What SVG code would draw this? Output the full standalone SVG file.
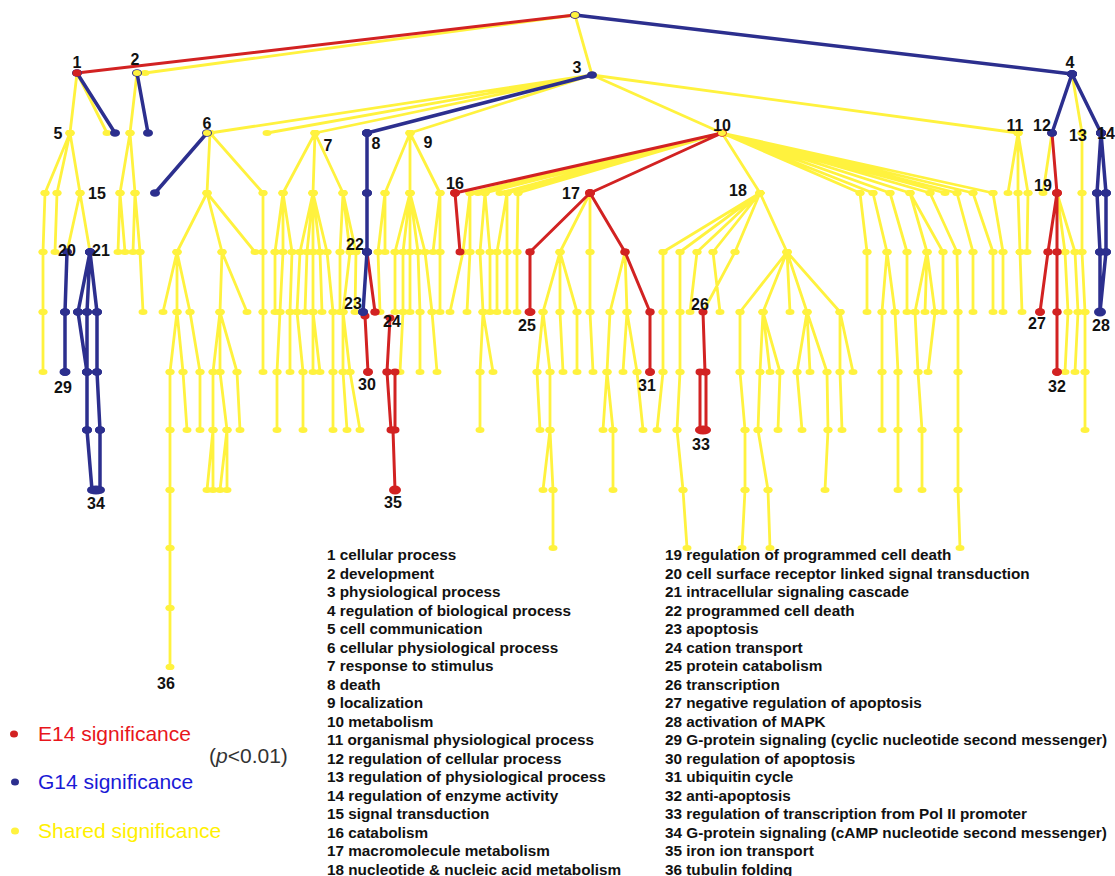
<svg xmlns="http://www.w3.org/2000/svg" width="1115" height="876" viewBox="0 0 1115 876">
<style>
.y{stroke:#fff23e;stroke-width:2.8;fill:none;stroke-linecap:round;marker-start:url(#dy);marker-mid:url(#dy);marker-end:url(#dy)}
.r{stroke:#d22222;stroke-width:3;fill:none;stroke-linecap:round;marker-start:url(#dr);marker-mid:url(#dr);marker-end:url(#dr)}
.b{stroke:#2c2f8e;stroke-width:3.5;fill:none;stroke-linecap:round;marker-start:url(#db);marker-mid:url(#db);marker-end:url(#db)}
.yd{fill:#fff23e}.rd{fill:#d22222}.bd{fill:#2c2f8e}
.lbl{font-family:"Liberation Sans",Arial,sans-serif;font-weight:bold;font-size:16px;text-anchor:middle;fill:#111}
.lst{font-family:"Liberation Sans",Arial,sans-serif;font-weight:bold;font-size:15.3px;fill:#111}
.leg{font-family:"Liberation Sans",Arial,sans-serif;font-size:21px}
</style>
<defs>
<marker id="dy" markerUnits="userSpaceOnUse" markerWidth="10" markerHeight="8" refX="5" refY="4" viewBox="0 0 10 8" overflow="visible"><ellipse cx="5" cy="4" rx="4.5" ry="3" fill="#fff23e"/></marker>
<marker id="dr" markerUnits="userSpaceOnUse" markerWidth="10" markerHeight="8" refX="5" refY="4" viewBox="0 0 10 8" overflow="visible"><ellipse cx="5" cy="4" rx="4.5" ry="3.4" fill="#d22222"/></marker>
<marker id="db" markerUnits="userSpaceOnUse" markerWidth="10" markerHeight="8" refX="5" refY="4" viewBox="0 0 10 8" overflow="visible"><ellipse cx="5" cy="4" rx="5" ry="3.8" fill="#2c2f8e"/></marker>
</defs>
<rect width="1115" height="876" fill="#fff"/>
<g id="connectors">
<path class="y" d="M575 15L145 73M575 15L592 75M77 73L70 133M77 73L107 133M137 73L130 133M592 75L210 133M592 75L267 133M592 75L315 133M592 75L410 133M592 75L722 133M592 75L1018 133M1072 74L1082 133
M70 133L45 193M70 133L57 193M70 133L80 193M130 133L120 193M130 133L135 193M210 133L207 193M210 133L263 193M315 133L283 193M315 133L313 193M315 133L343 193M410 133L385 193M410 133L410 193M410 133L440 193M722 133L470 193M722 133L478 193M722 133L485 193M722 133L500 193M722 133L507 193M722 133L518 193M722 133L760 193M722 133L860 193M722 133L873 193M722 133L890 193M722 133L910 193M722 133L930 193M722 133L945 193M722 133L957 193M722 133L973 193M722 133L993 193M1018 133L1008 193M1018 133L1018 193M1018 133L1028 193M1052 133L1043 193M1082 133L1082 193
M45 193L43 252M57 193L55 252M80 193L67 252M80 193L90 252M120 193L118 252M120 193L125 252M135 193L133 252M135 193L140 252M207 193L177 252M207 193L222 252M207 193L255 252M263 193L263 252M283 193L275 252M283 193L283 252M283 193L292 252M313 193L300 252M313 193L307 252M313 193L313 252M313 193L320 252M313 193L327 252M343 193L340 252M343 193L350 252M343 193L356 252M385 193L378 252M385 193L385 252M410 193L395 252M410 193L403 252M410 193L410 252M410 193L418 252M410 193L425 252M440 193L433 252M440 193L440 252M470 193L463 252M470 193L470 252M485 193L480 252M485 193L490 252M507 193L497 252M507 193L507 252M518 193L517 252M590 193L560 252M590 193L590 252M760 193L663 252M760 193L680 252M760 193L697 252M760 193L713 252M760 193L735 252M760 193L787 252M860 193L867 252M873 193L887 252M890 193L907 252M910 193L927 252M910 193L943 252M930 193L957 252M957 193L973 252M973 193L993 252M993 193L1003 252M1018 193L1020 252M1028 193L1027 252M1057 193L1065 252M1057 193L1075 252M1082 193L1082 252
M43 252L43 312M140 252L143 312M177 252L163 312M177 252L177 312M177 252L190 312M222 252L220 312M222 252L247 312M263 252L263 312M275 252L275 312M283 252L280 312M292 252L290 312M300 252L297 312M307 252L305 312M313 252L313 312M320 252L322 312M327 252L333 312M340 252L340 312M350 252L343 312M356 252L355 312M378 252L380 312M395 252L395 312M403 252L403 312M410 252L410 312M418 252L420 312M425 252L432 312M440 252L440 312M463 252L450 312M470 252L467 312M480 252L483 312M490 252L490 312M497 252L497 312M507 252L507 312M517 252L517 312M560 252L543 312M560 252L560 312M560 252L577 312M590 252L590 312M625 252L610 312M625 252L627 312M663 252L663 312M680 252L680 312M697 252L690 312M713 252L720 312M735 252L703 312M787 252L740 312M787 252L763 312M787 252L790 312M787 252L807 312M787 252L840 312M867 252L867 312M887 252L882 312M887 252L895 312M907 252L907 312M927 252L915 312M927 252L925 312M927 252L935 312M943 252L943 312M957 252L958 312M973 252L973 312M993 252L993 312M1003 252L1003 312M1020 252L1022 312M1065 252L1068 312M1075 252L1078 312M1082 252L1085 312
M43 312L43 372M177 312L170 372M177 312L183 372M190 312L200 372M220 312L213 372M220 312L220 372M220 312L237 372M263 312L263 372M280 312L277 372M290 312L290 372M297 312L303 372M313 312L313 372M313 312L320 372M333 312L333 372M343 312L343 372M343 312L350 372M403 312L400 372M420 312L420 372M432 312L437 372M483 312L480 372M483 312L493 372M543 312L537 372M543 312L550 372M560 312L563 372M577 312L577 372M590 312L593 372M610 312L607 372M627 312L623 372M627 312L637 372M663 312L663 372M680 312L680 372M740 312L740 372M763 312L760 372M763 312L770 372M763 312L780 372M807 312L797 372M807 312L810 372M807 312L827 372M840 312L840 372M840 312L853 372M882 312L882 372M895 312L898 372M915 312L918 372M935 312L928 372M958 312L958 372M1068 312L1065 372M1078 312L1075 372M1085 312L1085 372
M170 372L170 430M183 372L187 430M200 372L200 430M213 372L213 430M220 372L227 430M237 372L240 430M277 372L277 430M303 372L303 430M333 372L333 430M343 372L347 430M350 372L360 430M480 372L480 430M537 372L540 430M550 372L550 430M607 372L603 430M607 372L613 430M637 372L643 430M663 372L657 430M680 372L677 430M740 372L745 430M760 372L758 430M780 372L778 430M797 372L802 430M827 372L828 430M840 372L842 430M882 372L882 430M898 372L898 430M918 372L922 430M958 372L958 430M1085 372L1085 430
M170 430L170 490M213 430L207 490M213 430L213 490M227 430L220 490M227 430L227 490M550 430L543 490M550 430L553 490M613 430L613 490M677 430L683 490M745 430L745 490M758 430L768 490M828 430L825 490M898 430L898 490M922 430L922 490M958 430L958 490
M170 490L170 548M553 490L553 548M683 490L687 548M745 490L742 548M768 490L770 548M958 490L960 548M170 548L170 608M170 608L170 667"/>
<path class="r" d="M575 15L77 73M722 133L455 193M722 133L590 193M455 193L460 252M590 193L530 252M530 252L530 312M590 193L625 252M625 252L650 312M650 312L650 372M703 312L705 372M700 372L700 430M706 372L706 430M367 252L375 312M365 316L368 372M390 318L387 372M387 372L391 430M395 372L395 430M393 430L395 490M1052 133L1057 193M1057 193L1048 252M1048 252L1040 312M1057 193L1057 252M1057 252L1057 312M1057 312L1057 372"/>
<path class="b" d="M575 15L1072 74M77 73L115 133M137 73L148 133M207 133L155 193M592 75L367 133M367 133L367 193M367 193L367 252M367 252L363 312M67 252L65 312M65 312L65 372M90 252L78 312M90 252L87 312M90 252L97 312M78 312L87 372M87 312L87 372M97 312L97 372M87 372L87 430M97 372L100 430M87 430L92 490M100 430L100 490M1072 74L1052 133M1072 74L1101 133M1101 133L1097 193M1101 133L1106 193M1097 193L1100 252M1106 193L1106 252M1100 252L1100 312M1106 252L1100 312"/>
</g>
<g id="root"><ellipse class="yd" cx="575" cy="15" rx="4" ry="3"/></g>
<g id="n1"><ellipse class="rd" cx="77" cy="73" rx="4.5" ry="3.5"/><text class="lbl" x="77" y="68">1</text></g>
<g id="n2"><ellipse class="yd" cx="137" cy="73" rx="4" ry="3"/><text class="lbl" x="135" y="65">2</text></g>
<g id="n3"><ellipse class="bd" cx="592" cy="75" rx="3.5" ry="2.5"/><text class="lbl" x="577" y="73">3</text></g>
<g id="n4"><ellipse class="bd" cx="1072" cy="74" rx="5" ry="4"/><text class="lbl" x="1070" y="68">4</text></g>
<g id="n5"><ellipse class="yd" cx="70" cy="133" rx="4" ry="3"/><text class="lbl" x="58" y="139">5</text></g>
<g id="n6"><ellipse class="yd" cx="207" cy="133" rx="4" ry="3"/><text class="lbl" x="207" y="129">6</text></g>
<g id="n7"><ellipse class="yd" cx="315" cy="133" rx="4" ry="3"/><text class="lbl" x="328" y="151">7</text></g>
<g id="n8"><ellipse class="bd" cx="367" cy="133" rx="5" ry="4"/><text class="lbl" x="376" y="149">8</text></g>
<g id="n9"><ellipse class="yd" cx="410" cy="133" rx="4" ry="3"/><text class="lbl" x="428" y="148">9</text></g>
<g id="n10"><ellipse class="yd" cx="722" cy="133" rx="4" ry="3"/><text class="lbl" x="722" y="131">10</text></g>
<g id="n11"><ellipse class="yd" cx="1018" cy="133" rx="4" ry="3"/><text class="lbl" x="1015" y="131">11</text></g>
<g id="n12"><ellipse class="bd" cx="1052" cy="133" rx="4.5" ry="3.5"/><text class="lbl" x="1042" y="131">12</text></g>
<g id="n13"><ellipse class="yd" cx="1082" cy="133" rx="4" ry="3"/><text class="lbl" x="1078" y="141">13</text></g>
<g id="n14"><ellipse class="bd" cx="1101" cy="133" rx="5" ry="4"/><text class="lbl" x="1097" y="139" style="text-anchor:start">14</text></g>
<g id="n15"><ellipse class="yd" cx="80" cy="193" rx="4" ry="3"/><text class="lbl" x="97" y="199">15</text></g>
<g id="n16"><ellipse class="rd" cx="455" cy="193" rx="5" ry="4"/><text class="lbl" x="455" y="189">16</text></g>
<g id="n17"><ellipse class="rd" cx="590" cy="193" rx="5" ry="4"/><text class="lbl" x="571" y="199">17</text></g>
<g id="n18"><ellipse class="yd" cx="760" cy="193" rx="4" ry="3"/><text class="lbl" x="738" y="196">18</text></g>
<g id="n19"><ellipse class="rd" cx="1057" cy="193" rx="5" ry="4"/><text class="lbl" x="1043" y="191">19</text></g>
<g id="n20"><ellipse class="bd" cx="67" cy="252" rx="4" ry="3"/><text class="lbl" x="67" y="256">20</text></g>
<g id="n21"><ellipse class="bd" cx="90" cy="252" rx="4.5" ry="3.5"/><text class="lbl" x="101" y="256">21</text></g>
<g id="n22"><ellipse class="bd" cx="367" cy="252" rx="5" ry="4"/><text class="lbl" x="355" y="250">22</text></g>
<g id="n23"><ellipse class="bd" cx="363" cy="312" rx="5" ry="4"/><text class="lbl" x="353" y="309">23</text></g>
<g id="n24"><ellipse class="rd" cx="375" cy="312" rx="4.5" ry="3.5"/><text class="lbl" x="392" y="327">24</text></g>
<g id="n25"><ellipse class="rd" cx="530" cy="312" rx="5.5" ry="4"/><text class="lbl" x="527" y="331">25</text></g>
<g id="n26"><ellipse class="rd" cx="703" cy="312" rx="3.5" ry="2.5"/><text class="lbl" x="700" y="310">26</text></g>
<g id="n27"><ellipse class="rd" cx="1040" cy="312" rx="5" ry="4"/><text class="lbl" x="1037" y="329">27</text></g>
<g id="n28"><ellipse class="bd" cx="1100" cy="312" rx="6" ry="4.5"/><text class="lbl" x="1101" y="331">28</text></g>
<g id="n29"><ellipse class="bd" cx="65" cy="372" rx="5.5" ry="4"/><text class="lbl" x="63" y="393">29</text></g>
<g id="n30"><ellipse class="rd" cx="368" cy="372" rx="5" ry="4"/><text class="lbl" x="367" y="390">30</text></g>
<g id="n31"><ellipse class="rd" cx="650" cy="372" rx="5" ry="4"/><text class="lbl" x="647" y="391">31</text></g>
<g id="n32"><ellipse class="rd" cx="1057" cy="372" rx="5" ry="4"/><text class="lbl" x="1057" y="392">32</text></g>
<g id="n33"><ellipse class="rd" cx="703" cy="430" rx="8" ry="4.5"/><text class="lbl" x="701" y="450">33</text></g>
<g id="n34"><ellipse class="bd" cx="96" cy="490" rx="8" ry="4.5"/><text class="lbl" x="96" y="509">34</text></g>
<g id="n35"><ellipse class="rd" cx="395" cy="490" rx="6" ry="4.5"/><text class="lbl" x="393" y="508">35</text></g>
<g id="n36"><ellipse class="yd" cx="170" cy="667" rx="4" ry="3"/><text class="lbl" x="166" y="689">36</text></g>
<g id="legend">
<ellipse class="rd" cx="14" cy="734" rx="4" ry="3.5"/>
<text class="leg" x="38" y="741" fill="#e8161b">E14 significance</text>
<ellipse class="bd" cx="15" cy="782" rx="4" ry="3.5"/>
<text class="leg" x="38" y="789" fill="#1a1ad6">G14 significance</text>
<ellipse class="yd" cx="15" cy="831" rx="4" ry="3.5"/>
<text class="leg" x="38" y="838" fill="#fff000">Shared significance</text>
<text class="leg" x="209" y="763" fill="#333">(<tspan font-style="italic">p</tspan>&lt;0.01)</text>
</g>
<g id="term-list">
<text class="lst"><tspan x="327" y="560">1 cellular process</tspan><tspan x="327" dy="18.53">2 development</tspan><tspan x="327" dy="18.53">3 physiological process</tspan><tspan x="327" dy="18.53">4 regulation of biological process</tspan><tspan x="327" dy="18.53">5 cell communication</tspan><tspan x="327" dy="18.53">6 cellular physiological process</tspan><tspan x="327" dy="18.53">7 response to stimulus</tspan><tspan x="327" dy="18.53">8 death</tspan><tspan x="327" dy="18.53">9 localization</tspan><tspan x="327" dy="18.53">10 metabolism</tspan><tspan x="327" dy="18.53">11 organismal physiological process</tspan><tspan x="327" dy="18.53">12 regulation of cellular process</tspan><tspan x="327" dy="18.53">13 regulation of physiological process</tspan><tspan x="327" dy="18.53">14 regulation of enzyme activity</tspan><tspan x="327" dy="18.53">15 signal transduction</tspan><tspan x="327" dy="18.53">16 catabolism</tspan><tspan x="327" dy="18.53">17 macromolecule metabolism</tspan><tspan x="327" dy="18.53">18 nucleotide &amp; nucleic acid metabolism</tspan></text>
<text class="lst"><tspan x="665" y="560">19 regulation of programmed cell death</tspan><tspan x="665" dy="18.53">20 cell surface receptor linked signal transduction</tspan><tspan x="665" dy="18.53">21 intracellular signaling cascade</tspan><tspan x="665" dy="18.53">22 programmed cell death</tspan><tspan x="665" dy="18.53">23 apoptosis</tspan><tspan x="665" dy="18.53">24 cation transport</tspan><tspan x="665" dy="18.53">25 protein catabolism</tspan><tspan x="665" dy="18.53">26 transcription</tspan><tspan x="665" dy="18.53">27 negative regulation of apoptosis</tspan><tspan x="665" dy="18.53">28 activation of MAPK</tspan><tspan x="665" dy="18.53">29 G-protein signaling (cyclic nucleotide second messenger)</tspan><tspan x="665" dy="18.53">30 regulation of apoptosis</tspan><tspan x="665" dy="18.53">31 ubiquitin cycle</tspan><tspan x="665" dy="18.53">32 anti-apoptosis</tspan><tspan x="665" dy="18.53">33 regulation of transcription from Pol II promoter</tspan><tspan x="665" dy="18.53">34 G-protein signaling (cAMP nucleotide second messenger)</tspan><tspan x="665" dy="18.53">35 iron ion transport</tspan><tspan x="665" dy="18.53">36 tubulin folding</tspan></text>
</g>
</svg>
